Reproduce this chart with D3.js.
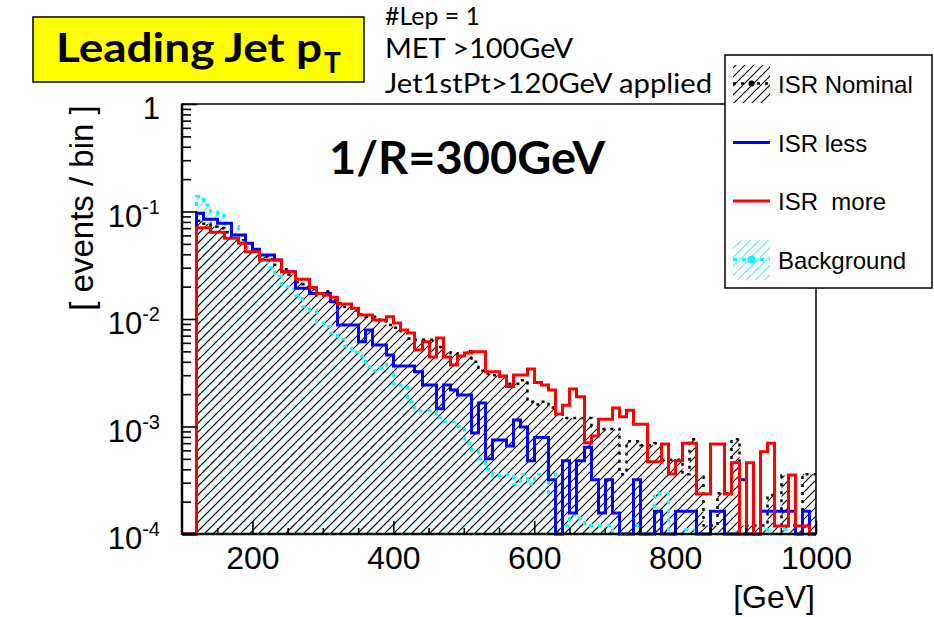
<!DOCTYPE html>
<html><head><meta charset="utf-8">
<script src="https://cdn.jsdelivr.net/npm/d3@7"></script>
<style>
body{margin:0;background:#fff;}
svg{display:block;}
text{font-family:"Liberation Sans",Arial,sans-serif;fill:#000;}
.cal{font-family:Lato,"Open Sans",sans-serif;}
</style>
</head><body><svg id="c" width="934" height="617"></svg>
<script>
// ---------- DATA ----------
const binLow = [100,110,120,130,140,150,160,170,180,190,200,210,220,230,240,250,260,270,280,290,
  300,310,320,330,340,350,360,370,380,390,400,410,420,430,440,450,460,470,480,490,
  500,510,520,530,540,550,560,570,580,590,600,610,620,630,640,650,660,670,680,690,
  700,710,720,730,740,750,760,770,780,790,800,810,820,830,840,850,860,870,880,890,
  900,910,920,930,940,950,960,970,980,990];
const binWidth = 10;

const isrNominal = [0,0,
  0.082,0.077,0.072,0.070,0.064,0.058,0.054,0.047,0.043,0.038,
  0.036,0.032,0.029,0.026,0.022,0.021,0.019,0.0165,0.018,0.015,
  0.014,0.013,0.012,0.011,0.0105,0.0105,0.0095,0.0088,0.0083,0.0077,
  0.0066,0.0064,0.0064,0.0064,0.0055,0.0049,0.0048,0.0047,0.0050,0.0040,
  0.0033,0.0031,0.0030,0.0029,0.0025,0.0025,0.0027,0.0017,0.0016,0.0017,
  0.0015,0.0013,0.0012,0.0012,0.0012,0.0012,0.0010,0.00095,0.00095,0.00095,
  0.00036,0.00073,0.00073,0.00067,0.00067,0.0007,0.00049,0.00049,0.00049,0.00036,
  0.00076,0.00034,0.00012,0.00012,0.00024,0.00024,0.00076,0.00012,0.00012,0.00012,
  0.00012,0.00023,0.00012,0.00035,0.00012,0.00012,0.00036,0.00036];

const isrLess = [0,0,
  0.0962,0.0846,0.0846,0.0777,0.0777,0.0605,0.0605,0.0506,0.0445,0.0394,
  0.0394,0.0354,0.0275,0.0275,0.0193,0.0193,0.0173,0.0173,0.0173,0.0145,
  0.00879,0.00879,0.00879,0.00615,0.0079,0.00573,0.00573,0.00462,0.00365,0.00365,
  0.00365,0.00323,0.00243,0.00243,0.00146,0.00243,0.00219,0.00196,0.00196,0.00087,
  0.00165,0.0005,0.00075,0.00075,0.00066,0.00115,0.00099,0.00048,0.00079,0.00079,
  0.00032,0,0.00048,0.000157,0.00048,0.00064,0.00032,0.000157,0.00032,0.000157,
  0,0,0.00032,0,0,0.000163,0,0,0.000163,0.000163,
  0.000163,0,0,0.000163,0.000163,0,0,0.00032,0,0,
  0.000163,0.000163,0.000163,0.000163,0.000163,0,0.000163,0];

const isrMore = [0,0,
  0.0707,0.0707,0.0640,0.0640,0.0563,0.0563,0.0506,0.0423,0.0423,0.0354,
  0.0354,0.0354,0.0275,0.0275,0.0234,0.0234,0.0196,0.0173,0.0167,0.0159,
  0.0138,0.0138,0.0126,0.0109,0.0109,0.00979,0.00979,0.0105,0.00918,0.0079,
  0.00741,0.00515,0.00615,0.00443,0.00666,0.00443,0.00373,0.00453,0.00483,0.00496,
  0.00496,0.00323,0.00323,0.00295,0.00235,0.00301,0.00301,0.00343,0.00256,0.00243,
  0.00219,0.00131,0.00158,0.00223,0.00189,0.000707,0.000816,0.00117,0.00117,0.00149,
  0.00123,0.00142,0.00105,0.00105,0.000471,0.000471,0.000688,0.000361,0.000481,0.000698,
  0.000698,0.000236,0.000236,0.000688,0.000688,0.000236,0.000461,0,0.000461,0,
  0.000583,0.000698,0.000119,0.000119,0.000354,0.000119,0.000119,0];

const background = [0,0,
  0.138,0.115,0.099,0.092,0.078,0.072,0.052,0.046,0.043,0.036,
  0.030,0.025,0.020,0.019,0.0166,0.013,0.012,0.0092,0.0085,0.0074,
  0.0065,0.0056,0.0049,0.0045,0.0036,0.0033,0.0035,0.0038,0.0025,0.0024,
  0.0017,0.0014,0.0014,0.0014,0.0012,0.0011,0.0011,0.0010,0.0007,0.0006,
  0.0005,0.0004,0.00035,0.00036,0.00036,0.00029,0.00036,0.00029,0.00036,0.00036,
  0.00024,0.00036,0.00012,0.00015,0.00014,0.00012,0.00012,0.00012,0.00012,0,
  0,0,0.00012,0,0,0.00024,0.00024,0,0,0.00011,
  0.00011,0,0,0,0,0,0,0,0,0,
  0.00011,0,0,0.00011,0,0,0,0];

const xTickValues = [200,400,600,800,1000];
const xMinorTicks = [150,250,300,350,450,500,550,650,700,750,850,900,950];
const yTickValues = [1e-4,1e-3,1e-2,1e-1,1];
const yTickLabels = [["10","-4"],["10","-3"],["10","-2"],["10","-1"],["1",""]];
const legendLabels = ["ISR Nominal","ISR less","ISR  more","Background"];
const infoLines = ["#Lep = 1","MET >100GeV","Jet1stPt>120GeV applied"];

// ---------- CHART ----------
const svg = d3.select("#c");
const F = {l:182, r:816, t:104, b:534};
const x = d3.scaleLinear().domain([100,1000]).range([F.l,F.r]);
const y = d3.scaleLog().domain([1e-4,1]).range([F.b,F.t]);

const defs = svg.append("defs");
function hatch(id,color,off,w){
  const p = defs.append("pattern").attr("id",id).attr("patternUnits","userSpaceOnUse")
    .attr("width",9).attr("height",9).attr("x",off).attr("y",0);
  p.append("path").attr("d","M-1,1 L1,-1 M0,9 L9,0 M8,10 L10,8")
    .attr("stroke",color).attr("stroke-width",w).attr("fill","none");
}
hatch("hK","#000",0,1.1);
hatch("hC","#00e8f0",0.5,1);
defs.append("clipPath").attr("id","clip").append("rect")
  .attr("x",F.l).attr("y",F.t).attr("width",F.r-F.l).attr("height",F.b-F.t+2);

function px(v){ return Math.round(x(v)) + 0.5; }
function yv(v){ return v>0 ? y(Math.max(v,1e-4)) : F.b; }
function stepPoints(vals){
  const pts = [[px(binLow[0]), F.b]];
  vals.forEach((v,i)=>{
    pts.push([px(binLow[i]), yv(v)]);
    pts.push([px(binLow[i]+binWidth), yv(v)]);
  });
  pts.push([px(binLow[binLow.length-1]+binWidth), F.b]);
  return pts;
}
const line = d3.line().x(d=>d[0]).y(d=>d[1]);
const area = d3.area().x(d=>d[0]).y0(F.b).y1(d=>d[1]);

const plot = svg.append("g").attr("clip-path","url(#clip)");
plot.append("path").attr("d",area(stepPoints(background))).attr("fill","url(#hC)");
plot.append("path").attr("d",area(stepPoints(isrNominal))).attr("fill","url(#hK)");
plot.append("path").attr("d",line(stepPoints(isrNominal))).attr("fill","none")
  .attr("stroke","#000").attr("stroke-width",2.5).attr("stroke-dasharray","3 5");
plot.append("path").attr("d",line(stepPoints(background))).attr("fill","none")
  .attr("stroke","#00ffff").attr("stroke-width",3).attr("stroke-dasharray","4 5");
plot.append("path").attr("d",line(stepPoints(isrLess))).attr("fill","none")
  .attr("stroke","#0000ff").attr("stroke-width",3);
plot.append("path").attr("d",line(stepPoints(isrMore))).attr("fill","none")
  .attr("stroke","#ff0000").attr("stroke-width",3);

// frame
svg.append("rect").attr("x",F.l).attr("y",F.t).attr("width",F.r-F.l).attr("height",F.b-F.t)
  .attr("fill","none").attr("stroke","#000").attr("stroke-width",1.5);
svg.append("line").attr("x1",F.l).attr("x2",F.l).attr("y1",F.t).attr("y2",F.b+1).attr("stroke","#000").attr("stroke-width",2.5);
svg.append("line").attr("x1",F.l).attr("x2",F.r).attr("y1",F.b).attr("y2",F.b).attr("stroke","#000").attr("stroke-width",2.5);

// x axis
const gx = svg.append("g").attr("transform",`translate(0,${F.b})`)
  .call(d3.axisBottom(x).tickValues(xTickValues).tickSize(-13).tickSizeOuter(0).tickPadding(12).tickFormat(d3.format("d")));
gx.select(".domain").remove();
gx.attr("font-size",null).attr("font-family",null);
gx.selectAll(".tick line").attr("stroke","#000").attr("stroke-width",1.6);
gx.selectAll(".tick text").style("font-size","32px").attr("fill","#000");
const gxm = svg.append("g").attr("transform",`translate(0,${F.b})`)
  .call(d3.axisBottom(x).tickValues(xMinorTicks).tickSize(-6).tickSizeOuter(0).tickFormat(""));
gxm.select(".domain").remove();
gxm.selectAll(".tick line").attr("stroke","#000").attr("stroke-width",1.6);

// y axis
const gy = svg.append("g").attr("transform",`translate(${F.l},0)`)
  .call(d3.axisLeft(y).tickValues(yTickValues).tickSize(-15).tickSizeOuter(0).tickPadding(22));
gy.select(".domain").remove();
gy.attr("font-size",null).attr("font-family",null);
gy.selectAll(".tick line").attr("stroke","#000").attr("stroke-width",1.6);
gy.selectAll(".tick text").each(function(d,i){
  const t = d3.select(this);
  t.text(null).attr("dy","0.47em").style("font-size","31px").attr("fill","#000");
  t.append("tspan").text(yTickLabels[i][0]);
  if (yTickLabels[i][1]) t.append("tspan").attr("dy","-13").style("font-size","20px").text(yTickLabels[i][1]);
});
const yMinor = [];
[1e-4,1e-3,1e-2,1e-1].forEach(dec=>{ for(let k=2;k<=9;k++) yMinor.push(dec*k); });
const gym = svg.append("g").attr("transform",`translate(${F.l},0)`)
  .call(d3.axisLeft(y).tickValues(yMinor).tickSize(-9).tickSizeOuter(0).tickFormat(""));
gym.select(".domain").remove();
gym.selectAll(".tick line").attr("stroke","#000").attr("stroke-width",1.6);

// axis titles
svg.append("text").attr("transform","translate(93,208) rotate(-90)").attr("text-anchor","middle")
  .style("font-size","33px").text("[ events / bin ]");
svg.append("text").attr("x",815).attr("y",608).attr("text-anchor","end")
  .style("font-size","32px").text("[GeV]");

// legend
const L = {x:725, y:55, w:207, h:233};
svg.append("rect").attr("x",L.x).attr("y",L.y).attr("width",L.w).attr("height",L.h)
  .attr("fill","#fff").attr("stroke","#000").attr("stroke-width",1.5);
const rows = [83.5,142.5,201,259.5];
svg.append("rect").attr("x",733).attr("y",65).attr("width",37).attr("height",38).attr("fill","url(#hK)");
svg.append("line").attr("x1",733).attr("x2",770).attr("y1",rows[0]).attr("y2",rows[0])
  .attr("stroke","#000").attr("stroke-width",2.5).attr("stroke-dasharray","3 5");
svg.append("circle").attr("cx",751.5).attr("cy",rows[0]).attr("r",3).attr("fill","#000");
svg.append("line").attr("x1",733).attr("x2",770).attr("y1",rows[1]).attr("y2",rows[1]).attr("stroke","#0000ff").attr("stroke-width",3);
svg.append("line").attr("x1",733).attr("x2",770).attr("y1",rows[2]).attr("y2",rows[2]).attr("stroke","#ff0000").attr("stroke-width",3);
svg.append("rect").attr("x",733).attr("y",240).attr("width",37).attr("height",40).attr("fill","url(#hC)");
svg.append("line").attr("x1",733).attr("x2",770).attr("y1",rows[3]).attr("y2",rows[3])
  .attr("stroke","#00ffff").attr("stroke-width",3).attr("stroke-dasharray","4 5");
svg.append("circle").attr("cx",751.5).attr("cy",rows[3]).attr("r",4).attr("fill","#00ffff");
legendLabels.forEach((s,i)=>{
  svg.append("text").attr("x",778).attr("y",rows[i]+9).style("font-size","24px")
    .style("white-space","pre").attr("xml:space","preserve").text(s);
});

// title box
svg.append("rect").attr("x",33).attr("y",17).attr("width",331).attr("height",65)
  .attr("fill","#ffff00").attr("stroke","#000").attr("stroke-width",1.5);
svg.append("text").attr("class","cal").attr("x",56).attr("y",62).style("font-size","40px").style("font-weight","bold")
  .attr("textLength",266).attr("lengthAdjust","spacingAndGlyphs").text("Leading Jet p");
svg.append("text").attr("class","cal").attr("x",324).attr("y",73).style("font-size","28px").style("font-weight","bold").text("T");

// info text
const infoWidths = [95,188,327];
const infoBase = [25,58,93];
const infoSize = [25,27,27];
infoLines.forEach((s,i)=>{
  svg.append("text").attr("class","cal").attr("x",385).attr("y",infoBase[i]).style("font-size",infoSize[i]+"px")
    .attr("textLength",infoWidths[i]).attr("lengthAdjust","spacingAndGlyphs").text(s);
});

// 1/R label
svg.append("text").attr("class","cal").attr("x",329).attr("y",174).style("font-size","46px").style("font-weight","bold")
  .attr("textLength",276).attr("lengthAdjust","spacingAndGlyphs").text("1/R=300GeV");
</script>
</body></html>
